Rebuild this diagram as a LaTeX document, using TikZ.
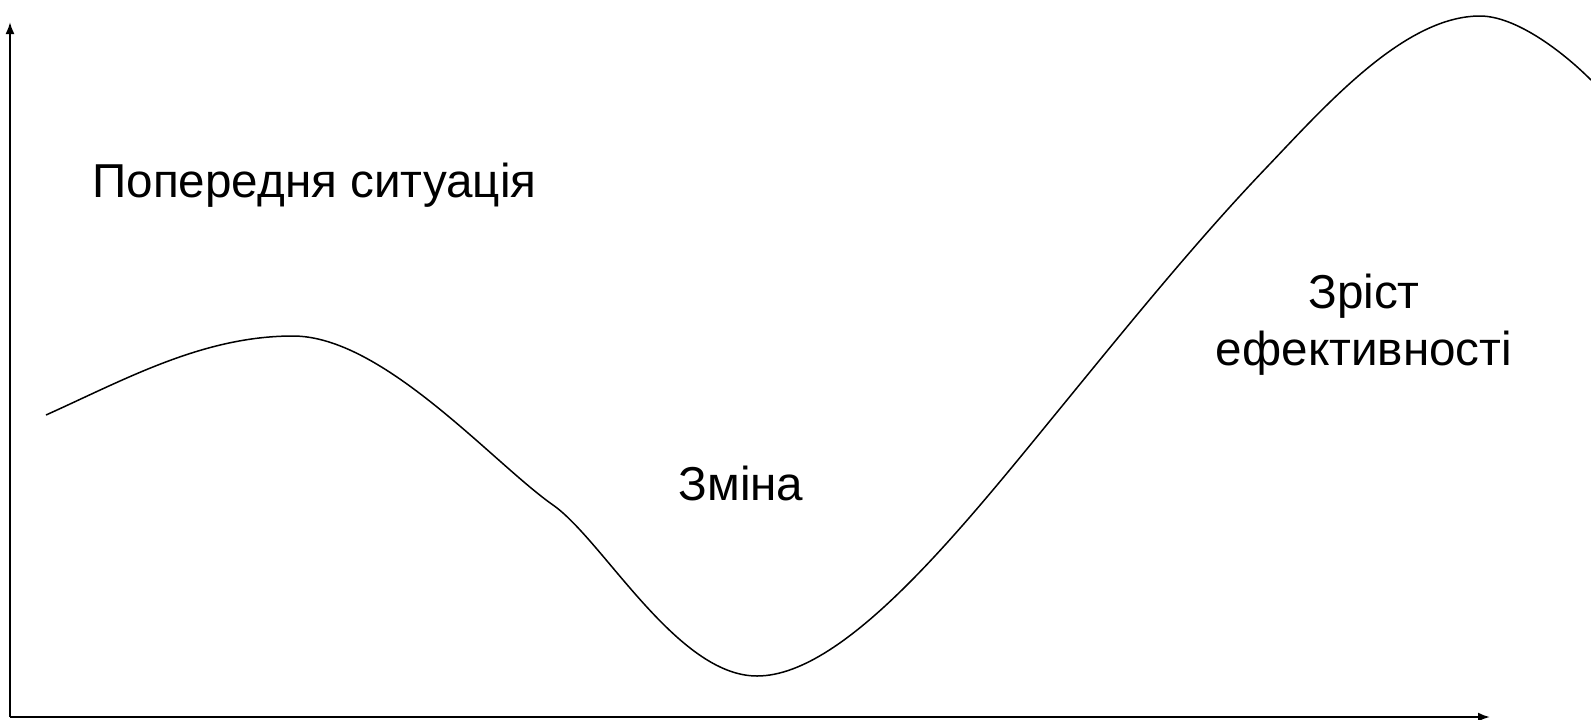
\documentclass[tikz,border=0pt]{standalone}
\usepackage{fontspec}
\setmainfont{Liberation Sans}
\usetikzlibrary{arrows.meta}
\tikzset{
  axis/.style={line width=1pt, -{Latex[length=6pt,width=4.5pt]}},
  curve/.style={line width=0.75pt},
  label/.style={font=\fontsize{23.8}{28.5}\selectfont, inner sep=0pt}
}
\begin{document}
\begin{tikzpicture}[x=0.5pt,y=-0.5pt]
  \useasboundingbox (0,0) rectangle (1591,719);
  % axes
  \coordinate (o) at (10,717);
  \coordinate (ytip) at (10,22);
  \coordinate (xtip) at (1490,717);
  \draw[axis] (o) -- (ytip);
  \draw[axis] (o) -- (xtip);
  % efficiency curve
  \draw[curve] (46,415) .. controls (126,379) and (203,336) .. (293,336)
    .. controls (383,336) and (493,463) .. (553,505)
    .. controls (603,540) and (677,676) .. (757,676)
    .. controls (847,676) and (967,522) .. (1067,400)
    .. controls (1134,318) and (1200,237) .. (1267,167)
    .. controls (1327,104) and (1405,16) .. (1480,16)
    .. controls (1515,16) and (1561,50) .. (1591,80);
  % labels
  \node[label, anchor=base west] (prev) at (92,197) {Попередня ситуація};
  \node[label, anchor=base] (change) at (741,500) {Зміна};
  \node[label, anchor=base, align=center] (growth) at (1364,365)
    {Зріст\\ефективності};
\end{tikzpicture}
\end{document}
